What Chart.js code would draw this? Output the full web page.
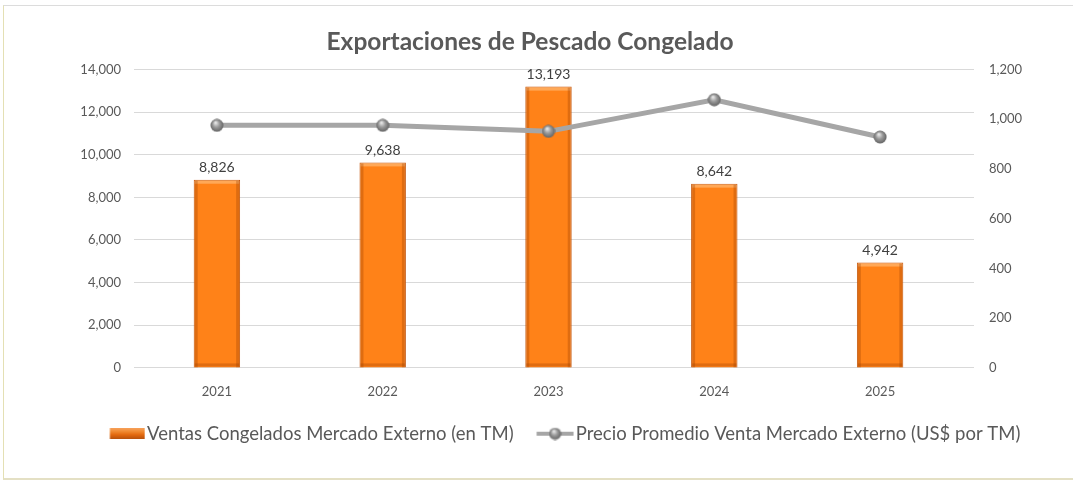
<!DOCTYPE html>
<html>
<head>
<meta charset="utf-8">
<script src="https://cdn.jsdelivr.net/npm/chart.js@4"></script>
<style>
  body { margin: 0; background: #fff; }
  #frame { position: absolute; left: 3px; top: 5px; width: 1080px; height: 472px;
           border-left: 1px solid #e4e0b4; border-bottom: 2px solid #e4e0c4; border-top: 1px solid #dcdcdc; }
  #wrap { position: absolute; left: 0; top: 0; width: 1073px; height: 480px; }
</style>
</head>
<body>
<div id="frame"></div>
<div id="wrap"><canvas id="chart"></canvas></div>
<script>
var years = ['2021', '2022', '2023', '2024', '2025'];
var ventasTM = [8826, 9638, 13193, 8642, 4942];
var precioUSD = [975, 975, 951, 1078, 928];
var ventasLabel = 'Ventas Congelados Mercado Externo (en TM)';
var precioLabel = 'Precio Promedio Venta Mercado Externo (US$ por TM)';

var gray = '#595959';
var font = 'Lato, Carlito, "Open Sans", sans-serif';

function sphere(d) {
    var c = document.createElement('canvas');
    c.width = d; c.height = d;
    var g = c.getContext('2d');
    var r = d / 2;
    var grad = g.createRadialGradient(r * 0.8, r * 0.6, 0.5, r, r, r);
    grad.addColorStop(0, '#e8e8e8');
    grad.addColorStop(0.45, '#9a9a9a');
    grad.addColorStop(1, '#5e5e5e');
    g.fillStyle = grad;
    g.beginPath(); g.arc(r, r, r - 0.5, 0, Math.PI * 2); g.fill();
    return c;
}

// legend icons sit right-aligned in a wider transparent canvas so they hug the text
function barIcon() {
    var c = document.createElement('canvas');
    c.width = 51; c.height = 11;
    var g = c.getContext('2d');
    var grad = g.createLinearGradient(0, 0, 0, 11);
    grad.addColorStop(0, '#f7a15c');
    grad.addColorStop(0.3, '#f08a30');
    grad.addColorStop(0.6, '#e3690f');
    grad.addColorStop(1, '#b4500c');
    g.fillStyle = grad;
    g.fillRect(15.5, 0, 35, 11);
    return c;
}

function lineIcon() {
    var c = document.createElement('canvas');
    c.width = 51; c.height = 14;
    var g = c.getContext('2d');
    g.strokeStyle = '#a6a6a6';
    g.lineWidth = 4;
    g.beginPath(); g.moveTo(13.5, 7); g.lineTo(50.5, 7); g.stroke();
    g.drawImage(sphere(13), 25.5, 0.5);
    return c;
}

function blankIcon() {
    var c = document.createElement('canvas');
    c.width = 2; c.height = 2;
    return c;
}

var dot = sphere(14);

// Excel leaves a little extra room right of the last category
var xRightGap = 11;
var narrowX = {
    id: 'narrowX',
    afterLayout: function(chart) {
        var x = chart.scales.x;
        x.right = chart.chartArea.right - xRightGap;
        x.width = x.right - x.left;
        x.configure();
    }
};

// dataset 1 is the bar series
var bevel = {
    id: 'bevel',
    afterDatasetDraw: function(chart, args) {
        if (args.index !== 1) return;
        var ctx = chart.ctx;
        args.meta.data.forEach(function(bar) {
            var left = bar.x - bar.width / 2, right = bar.x + bar.width / 2;
            var top = bar.y, bottom = bar.base;
            ctx.save();
            ctx.fillStyle = 'rgba(255,200,140,0.55)';
            ctx.fillRect(left + 1, top + 1, bar.width - 2, 3);
            ctx.fillStyle = 'rgba(150,60,0,0.3)';
            ctx.fillRect(left + 1, top + 1, 3, bottom - top - 1);
            ctx.fillRect(right - 4, top + 1, 3, bottom - top - 1);
            ctx.fillRect(left + 1, bottom - 4, bar.width - 2, 3);
            ctx.restore();
        });
    }
};

var valueLabels = {
    id: 'valueLabels',
    afterDatasetsDraw: function(chart) {
        var ctx = chart.ctx;
        var meta = chart.getDatasetMeta(1);
        ctx.save();
        ctx.font = '14px ' + font;
        ctx.fillStyle = '#404040';
        ctx.textAlign = 'center';
        ctx.textBaseline = 'bottom';
        meta.data.forEach(function(bar, i) {
            ctx.fillText(ventasTM[i].toLocaleString('en-US'), bar.x, bar.y - 5);
        });
        ctx.restore();
    }
};

new Chart(document.getElementById('chart'), {
    data: {
        labels: years,
        datasets: [{
            type: 'line',
            label: precioLabel,
            data: precioUSD,
            yAxisID: 'y1',
            borderColor: '#a6a6a6',
            borderWidth: 5,
            pointStyle: dot,
            pointRadius: 7,
            pointHoverRadius: 7,
            tension: 0,
            order: 0
        }, {
            type: 'bar',
            label: ventasLabel,
            data: ventasTM,
            yAxisID: 'y',
            backgroundColor: '#ff8218',
            borderColor: '#c55a11',
            borderWidth: 1,
            barPercentage: 0.28,
            categoryPercentage: 1,
            order: 1
        }]
    },
    options: {
        responsive: true,
        maintainAspectRatio: false,
        animation: false,
        layout: { padding: { top: 27, left: 0, right: 13, bottom: 27 } },
        plugins: {
            title: {
                display: true,
                text: 'Exportaciones de Pescado Congelado',
                color: gray,
                font: { family: font, size: 24.5, weight: 'bold' },
                padding: { top: 0, bottom: 13 }
            },
            legend: {
                position: 'bottom',
                labels: {
                    color: gray,
                    font: { family: font, size: 18.5 },
                    usePointStyle: true,
                    pointStyleWidth: 36,
                    padding: 17,
                    generateLabels: function(chart) {
                        return [
                            { text: '', pointStyle: blankIcon(), datasetIndex: -1, fontColor: gray, lineWidth: 0, strokeStyle: 'transparent', fillStyle: 'transparent' },
                            { text: ventasLabel, pointStyle: barIcon(), datasetIndex: 1, fontColor: gray, lineWidth: 0, strokeStyle: 'transparent', fillStyle: 'transparent' },
                            { text: precioLabel, pointStyle: lineIcon(), datasetIndex: 0, fontColor: gray, lineWidth: 0, strokeStyle: 'transparent', fillStyle: 'transparent' }
                        ];
                    }
                }
            },
            tooltip: { enabled: false }
        },
        scales: {
            x: {
                grid: { display: false },
                border: { display: false },
                ticks: { color: gray, font: { family: font, size: 13 }, padding: 8 }
            },
            y: {
                position: 'left',
                min: 0, max: 14000,
                afterFit: function(scale) { scale.width = 134; },
                ticks: { stepSize: 2000, color: gray, font: { family: font, size: 13 }, padding: 13,
                         callback: function(v) { return v.toLocaleString('en-US'); } },
                grid: { color: '#d9d9d9', drawTicks: false },
                border: { display: false }
            },
            y1: {
                position: 'right',
                min: 0, max: 1200,
                afterFit: function(scale) { scale.width = 86; },
                ticks: { stepSize: 200, color: gray, font: { family: font, size: 13 }, padding: 15,
                         callback: function(v) { return v.toLocaleString('en-US'); } },
                grid: { display: false, drawTicks: false },
                border: { display: false }
            }
        }
    },
    plugins: [narrowX, bevel, valueLabels]
});
</script>
</body>
</html>
